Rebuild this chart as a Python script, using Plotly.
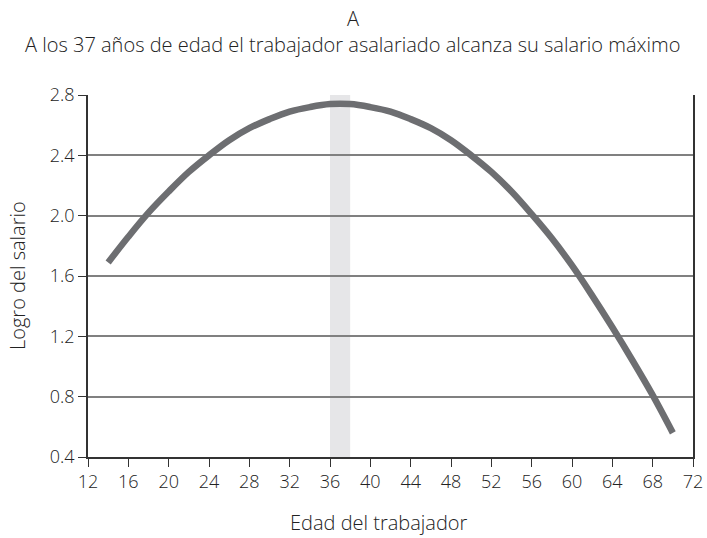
import plotly.graph_objects as go

# Data
edad = [14, 16, 18, 20, 22, 24, 26, 28, 30, 32, 34, 36, 38, 40, 42, 44, 46, 48,
        50, 52, 54, 56, 58, 60, 62, 64, 66, 68, 70]
logro = [1.69, 1.86, 2.02, 2.16, 2.29, 2.40, 2.50, 2.58, 2.64, 2.69, 2.72, 2.74,
         2.74, 2.72, 2.69, 2.64, 2.58, 2.50, 2.40, 2.29, 2.16, 2.01, 1.85, 1.67, 1.47,
         1.26, 1.04, 0.81, 0.56]
banda = [36, 38]
x_ticks = list(range(12, 73, 4))
y_ticks = [0.4, 0.8, 1.2, 1.6, 2.0, 2.4, 2.8]

titulo = "A"
subtitulo = "A los 37 años de edad el trabajador asalariado alcanza su salario máximo"
x_titulo = "Edad del trabajador"
y_titulo = "Logro del salario"

FONT = "Open Sans"
TXT = "#222222"
W = 300


def f(size):
    return dict(size=size, family=FONT, color=TXT, weight=W)


fig = go.Figure()
fig.add_trace(go.Scatter(x=edad, y=logro, mode="lines",
                         line=dict(color="#6d6e71", width=6.5, shape="spline"),
                         showlegend=False, hoverinfo="skip"))

fig.add_shape(type="rect", xref="x", yref="paper", x0=banda[0], x1=banda[1], y0=0, y1=1,
              fillcolor="#e6e6e8", line=dict(width=0), layer="below")

fig.update_layout(
    width=707, height=538,
    margin=dict(l=88, r=14, t=95, b=81),
    paper_bgcolor="white", plot_bgcolor="white",
    font=f(18),
)
fig.add_annotation(text=titulo, xref="paper", yref="paper", x=0.438, y=1.0,
                   xanchor="center", yanchor="middle",
                   yshift=77, showarrow=False, font=f(20))
fig.add_annotation(text=subtitulo, xref="paper", yref="paper", x=0.438, y=1.0,
                   xanchor="center", yanchor="middle",
                   yshift=51, showarrow=False, font=f(20))
fig.add_annotation(text=x_titulo, xref="paper", yref="paper", x=0.481, y=0.0,
                   xanchor="center", yanchor="middle",
                   yshift=-65, showarrow=False, font=f(20))
fig.add_annotation(text=y_titulo, xref="paper", yref="paper", x=0.0, y=0.5,
                   xanchor="center", yanchor="middle",
                   xshift=-71, showarrow=False, textangle=-90, font=f(20))

fig.update_xaxes(range=[12, 72], tickvals=x_ticks, ticktext=[str(v) for v in x_ticks],
                 showgrid=False, zeroline=False, showline=True, linecolor="#333333",
                 linewidth=1.5, ticks="outside", ticklen=8, tickcolor="#333333",
                 tickfont=f(18), automargin=False)
fig.update_yaxes(range=[0.4, 2.8], tickvals=y_ticks, ticktext=[f"{v:.1f}" for v in y_ticks],
                 showgrid=True, gridcolor="#808080", gridwidth=1.5, zeroline=False,
                 showline=True, mirror=True, linecolor="#333333", linewidth=1.5,
                 ticks="outside", ticklen=8, tickcolor="#333333",
                 tickfont=f(18), automargin=False)

fig.write_html("out.html", config={"displayModeBar": False},
               post_script="document.body.style.margin='0';document.body.style.overflow='hidden';")
